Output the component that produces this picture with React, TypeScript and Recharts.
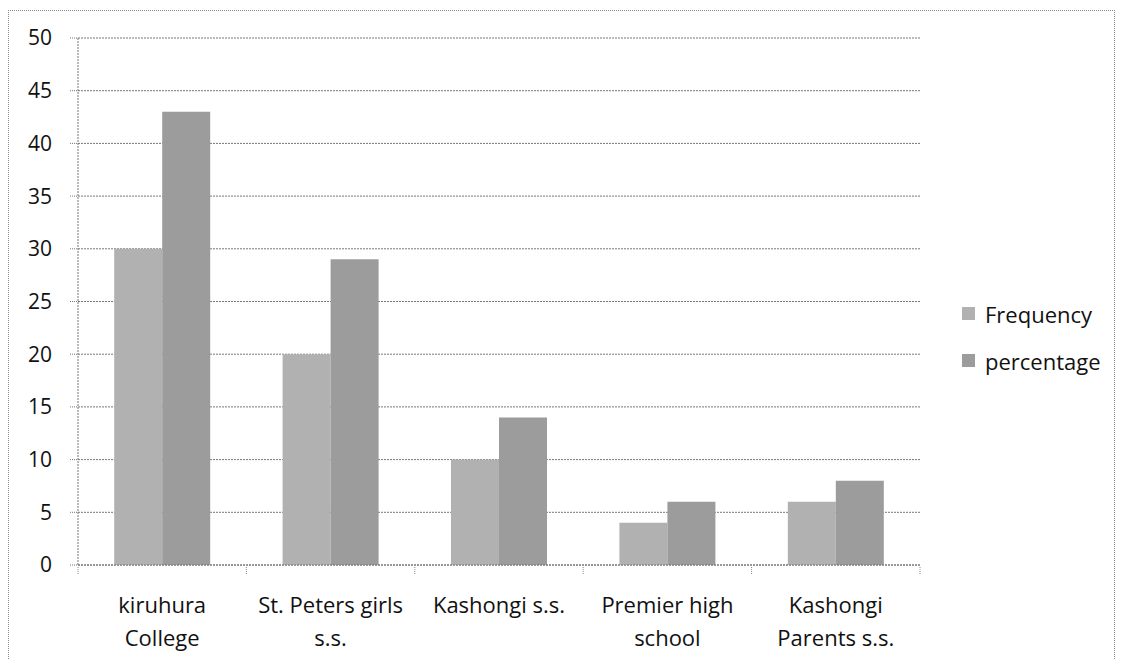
import React from 'react';
import { BarChart, Bar, XAxis, YAxis, CartesianGrid } from 'recharts';

const categories = [
  'kiruhura College',
  'St. Peters girls s.s.',
  'Kashongi s.s.',
  'Premier high school',
  'Kashongi Parents s.s.',
];
const categoryLines: string[][] = [
  ['kiruhura', 'College'],
  ['St. Peters girls', 's.s.'],
  ['Kashongi s.s.'],
  ['Premier high', 'school'],
  ['Kashongi', 'Parents s.s.'],
];
const seriesNames = ['Frequency', 'percentage'];
const frequency = [30, 20, 10, 4, 6];
const percentage = [43, 29, 14, 6, 8];
const yTicks = [0, 5, 10, 15, 20, 25, 30, 35, 40, 45, 50];

const data = categories.map((c, i) => ({
  name: c,
  Frequency: frequency[i],
  percentage: percentage[i],
}));

const FONT = '"Open Sans", "Noto Sans", sans-serif';
const COLORS = ['#b1b1b1', '#9c9c9c'];

const XTick = (props: any) => {
  const { x, y, payload } = props;
  const i = categories.indexOf(payload.value);
  const lines = categoryLines[i] || [payload.value];
  const half = typeof payload.offset === 'number' ? payload.offset : 0;
  return (
    <g>
      {half > 0 && (
        <line x1={x - half} x2={x - half} y1={y} y2={y + 7} stroke="#888" strokeDasharray="1 1" />
      )}
      {half > 0 && i === categories.length - 1 && (
        <line x1={x + half} x2={x + half} y1={y} y2={y + 7} stroke="#888" strokeDasharray="1 1" />
      )}
      {lines.map((l, k) => (
        <text
          key={k}
          x={x}
          y={y + 46 + k * 33}
          textAnchor="middle"
          fontFamily={FONT}
          fontSize={22}
          fill="#111"
        >
          {l}
        </text>
      ))}
    </g>
  );
};

export default function App() {
  return (
    <div
      style={{
        width: 1105,
        height: 660,
        border: '1px dotted #8a8a8a',
        borderBottom: 'none',
        marginTop: 2,
        position: 'relative',
        background: '#fff',
      }}
    >
      <BarChart
        width={1105}
        height={650}
        data={data}
        margin={{ top: 27, right: 194, left: 0, bottom: 0 }}
        barCategoryGap="21.5%"
        barGap={0}
      >
        <CartesianGrid vertical={false} stroke="#777" strokeDasharray="2 1" />
        <XAxis
          dataKey="name"
          height={96}
          axisLine={{ stroke: '#777', strokeDasharray: '2 1' }}
          tickLine={false}
          tickSize={0}
          tick={<XTick />}
          interval={0}
        />
        <YAxis
          width={69}
          domain={[0, 50]}
          ticks={yTicks}
          interval={0}
          tickSize={8}
          tickMargin={18}
          axisLine={{ stroke: '#777', strokeDasharray: '2 1' }}
          tickLine={{ stroke: '#777', strokeDasharray: '1 1' }}
          tick={{ fontFamily: FONT, fontSize: 21, fill: '#111' }}
        />
        <Bar dataKey="Frequency" fill={COLORS[0]} isAnimationActive={false} />
        <Bar dataKey="percentage" fill={COLORS[1]} isAnimationActive={false} />
      </BarChart>
      <div
        style={{
          position: 'absolute',
          left: 953,
          top: 279,
          fontFamily: FONT,
          fontSize: 22,
          color: '#111',
        }}
      >
        {seriesNames.map((s, i) => (
          <div key={s} style={{ display: 'flex', alignItems: 'center', height: 47 }}>
            <span
              style={{
                display: 'inline-block',
                width: 13,
                height: 13,
                background: COLORS[i],
                marginRight: 10,
              }}
            />
            <span>{s}</span>
          </div>
        ))}
      </div>
    </div>
  );
}
